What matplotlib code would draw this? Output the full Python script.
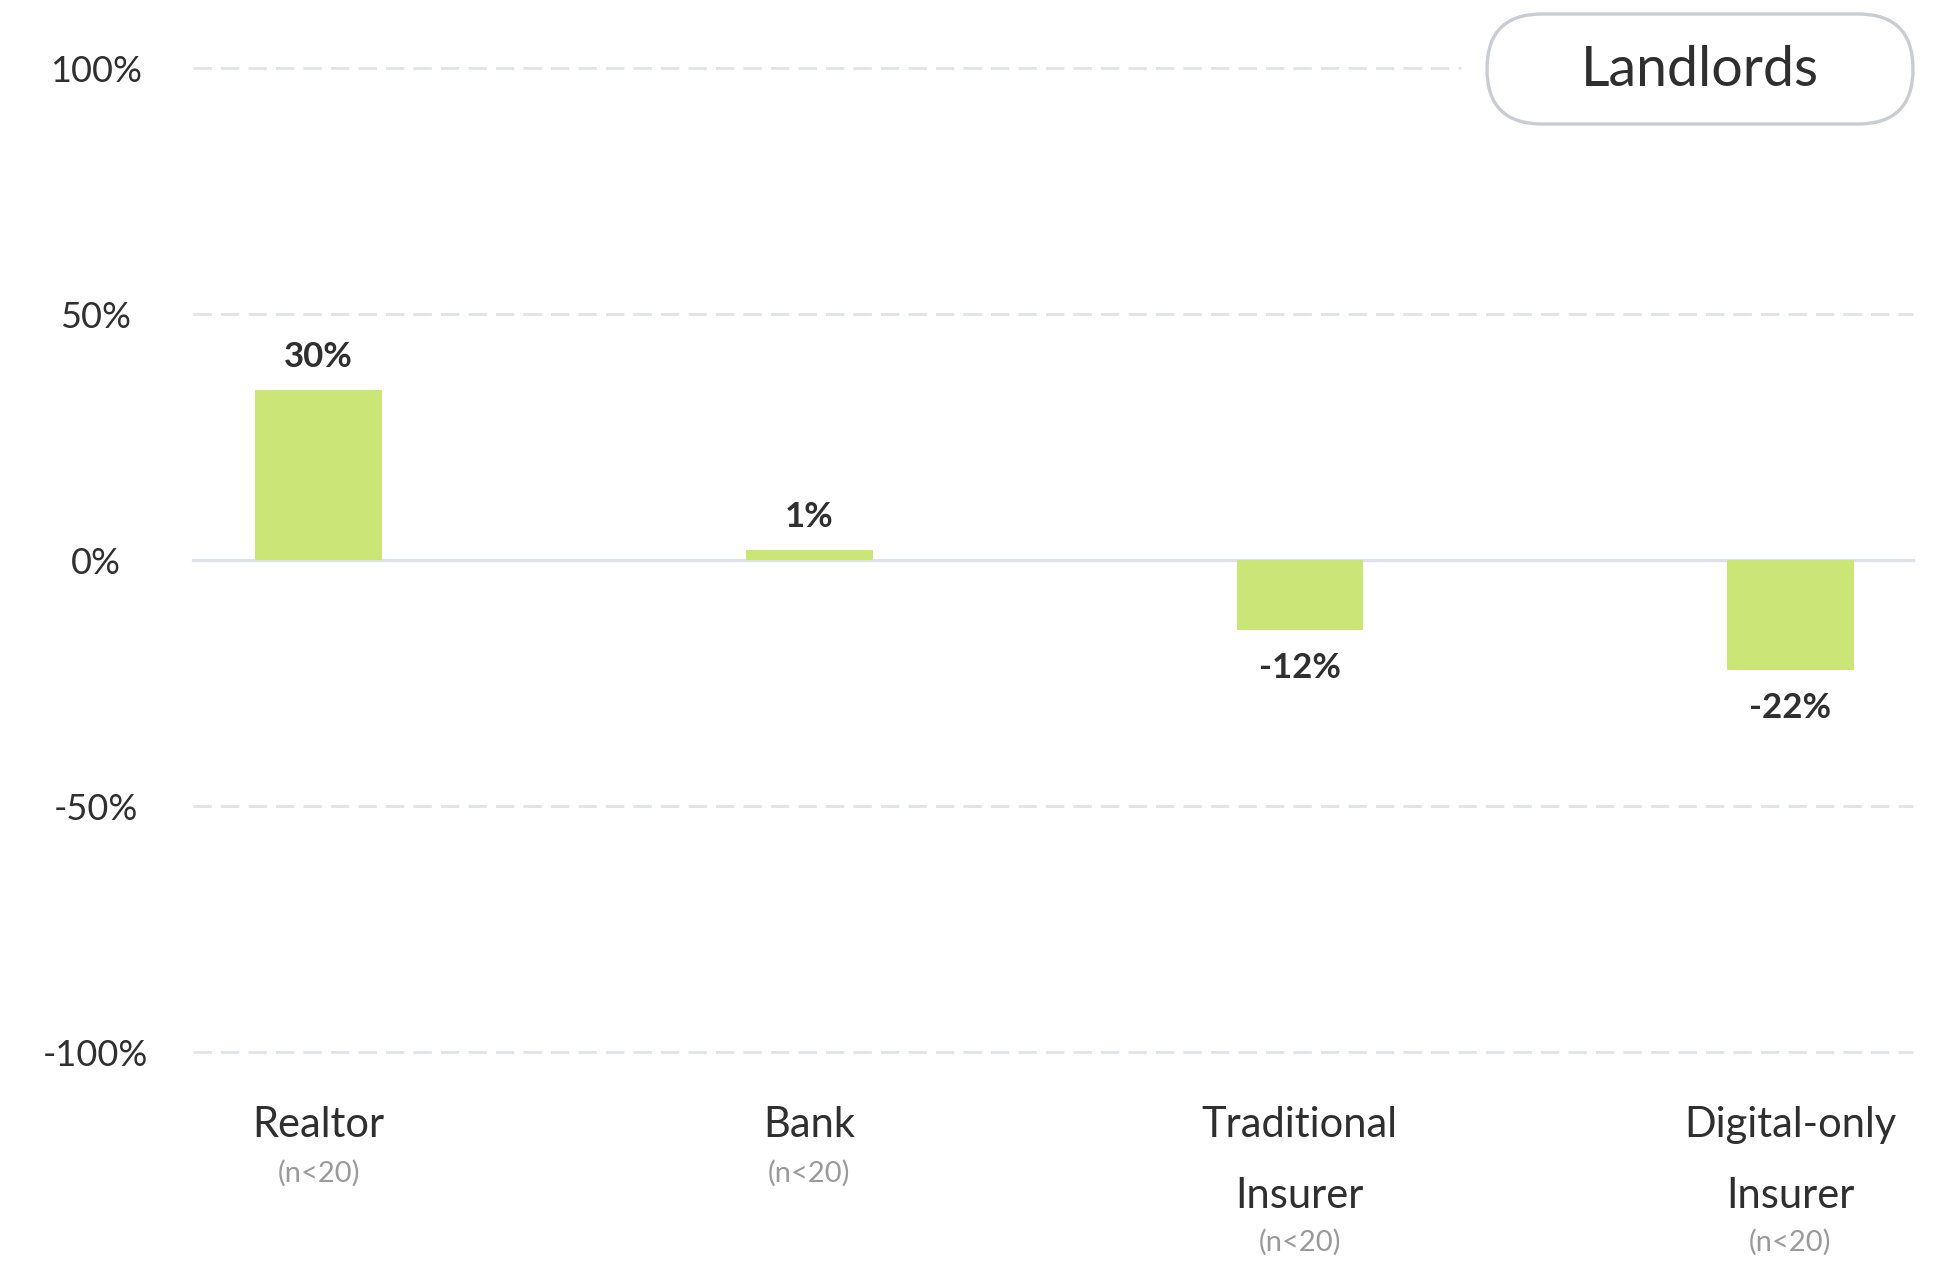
import matplotlib.pyplot as plt
from matplotlib.patches import FancyBboxPatch

plt.rcParams['font.family'] = ['Lato', 'DejaVu Sans']

categories = ['Realtor', 'Bank', 'Traditional\nInsurer', 'Digital-only\nInsurer']
sample_notes = ['(n<20)', '(n<20)', '(n<20)', '(n<20)']
two_line = [False, False, True, True]
# bar lengths as drawn in the source, and the labels printed on them
bar_heights = [34.6, 2.0, -14.3, -22.4]
value_labels = ['30%', '1%', '-12%', '-22%']
y_ticks = [100, 50, 0, -50, -100]
y_tick_labels = ['100%', '50%', '0%', '-50%', '-100%']
panel_title = 'Landlords'

green = '#c9e677'
dark = '#2f2f2f'
grid_col = '#e1e4e8'

fig = plt.figure(figsize=(19.48, 12.63), dpi=100)
ax = fig.add_axes([0.0991, 0.167, 0.883, 0.779])

x = list(range(len(categories)))
ax.bar(x, bar_heights, width=0.258, color=green, zorder=2)

ax.set_xlim(-0.256, 3.25)
ax.set_ylim(-100, 100)

# gridlines
for t in y_ticks:
    if t == 0:
        ax.axhline(0, color='#dde2e8', lw=2.4, zorder=1, clip_on=False)
    elif t == 100:
        ax.axhline(t, xmax=0.737, color=grid_col, lw=2.2, dashes=(6, 3), zorder=0, clip_on=False)
    else:
        ax.axhline(t, color=grid_col, lw=2.2, dashes=(6, 3), zorder=0, clip_on=False)

for s in ax.spines.values():
    s.set_visible(False)

ax.set_yticks(y_ticks)
ax.set_yticklabels(y_tick_labels, fontsize=26, color=dark, ha='center')
ax.tick_params(axis='y', length=0, pad=70)

ax.set_xticks(x)
ax.set_xticklabels(categories, fontsize=30, color=dark, linespacing=2.05, va='top')
ax.tick_params(axis='x', length=0, pad=39)

for i in x:
    off = 137 if two_line[i] else 87
    ax.annotate(sample_notes[i], xy=(i, 0), xycoords=('data', 'axes fraction'),
                xytext=(0, -off), textcoords='offset points',
                ha='center', va='center', fontsize=21, color='#9a9a9a')

for i, h in enumerate(bar_heights):
    dy = 24 if h >= 0 else -27
    ax.annotate(value_labels[i], xy=(i, h), xytext=(0, dy), textcoords='offset points',
                ha='center', va='center', fontsize=25, fontweight='bold', color=dark)

box = FancyBboxPatch((14.87, 11.39), 4.26, 1.10,
                     boxstyle='round,pad=0,rounding_size=0.55',
                     transform=fig.dpi_scale_trans, facecolor='white',
                     edgecolor='#c8cdd4', lw=2.4)
fig.patches.append(box)
fig.text(0.8727, 0.9438, panel_title, fontsize=40, color=dark, ha='center', va='center')

fig.savefig('out.png', dpi=100)
